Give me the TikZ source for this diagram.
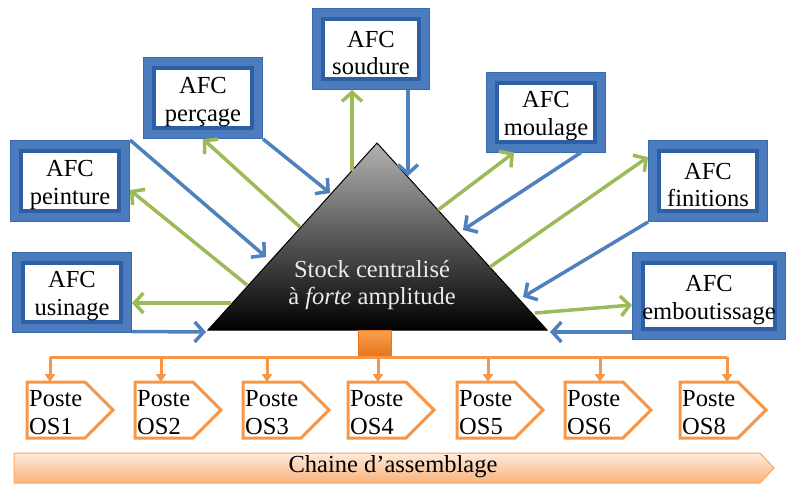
\documentclass[tikz,border=0pt]{standalone}
\usepackage{fontspec}
\setmainfont{Liberation Serif}
\usetikzlibrary{arrows.meta,calc}

\definecolor{bandblue}{HTML}{4A7CBE}
\definecolor{innerblue}{HTML}{2D5EA6}
\definecolor{edgeblue}{HTML}{3A6AAE}
\definecolor{arrowblue}{HTML}{4F81BD}
\definecolor{arrowgreen}{HTML}{9BBB59}
\definecolor{lineorange}{HTML}{F79646}
\definecolor{hubtop}{HTML}{F9A050}
\definecolor{hubbottom}{HTML}{E7761A}
\definecolor{chaintop}{HTML}{FDEBDC}
\definecolor{chainbottom}{HTML}{F8B27C}

\begin{document}
\begin{tikzpicture}[x=1pt, y=-1pt,
  every node/.style={font=\fontsize{24.5}{27.5}\selectfont},
  afc/.style={rectangle, inner sep=0pt, outer sep=11pt,
    fill=white, draw=innerblue, line width=4pt,
    preaction={draw=edgeblue, line width=22pt},
    preaction={draw=bandblue, line width=20pt}},
  afctext/.style={align=center, inner sep=0pt, text=black},
  barrow/.style={draw=arrowblue, line width=3.5pt,
    -{Straight Barb[length=9pt,width=20pt]}},
  garrow/.style={draw=arrowgreen, line width=3.5pt,
    -{Straight Barb[length=9pt,width=20pt]}},
  orangeline/.style={draw=lineorange, line width=3pt},
  orangearrow/.style={draw=lineorange, line width=3pt,
    -{Triangle[length=8pt,width=10pt]}},
  postebox/.style={rectangle, minimum width=86pt, minimum height=56pt,
    inner sep=0pt, outer sep=0pt},
  posttext/.style={inner sep=0pt, text=black},
]
\useasboundingbox (0,0) rectangle (787,485);

% ---- central stock (shaded triangle)
\coordinate (tA) at (377,143);
\coordinate (tL) at (208,330);
\coordinate (tR) at (547,330);
\shade[top color=black!30, bottom color=black, draw=black, line width=1pt]
  (tA) -- (tL) -- (tR) -- cycle;
\node[text=white!92!black, align=center, inner sep=0pt] (stock) at (372,285)
  {Stock centralisé\\à \textit{forte} amplitude};

% ---- AFC workshops (framed boxes)
\node[afc, minimum width=96pt, minimum height=60pt] (soudure)  at (371,49)  {};
\node[afc, minimum width=98pt, minimum height=60pt] (percage)  at (203,98)  {};
\node[afc, minimum width=98pt, minimum height=59pt] (moulage)  at (546,112) {};
\node[afc, minimum width=98pt, minimum height=60pt] (finitions) at (708,181) {};
\node[afc, minimum width=98pt, minimum height=60pt] (peinture) at (70,181)  {};
\node[afc, minimum width=98pt, minimum height=59pt] (usinage)  at (72,292)  {};
\node[afc, minimum width=132pt, minimum height=66pt] (embout)  at (709,296) {};

% ---- their captions
\foreach \n/\t in {soudure/soudure, percage/perçage, moulage/moulage,
                   finitions/finitions, peinture/peinture, usinage/usinage,
                   embout/emboutissage}
  \node[afctext] (\n-txt) at ($(\n.center)+(0,4)$) {AFC\\\t};

% ---- points on the triangle where the flows meet it
\coordinate (gS) at (352,171);
\coordinate (bS) at (408,176);
\coordinate (bP) at (330,193);
\coordinate (gP) at (300,227);
\coordinate (bPe) at (266,257);
\coordinate (gPe) at (247,285);
\coordinate (gU) at (231,303);
\coordinate (bU) at (206,332);
\coordinate (gM) at (438,210);
\coordinate (bM) at (463,230);
\coordinate (gF) at (490,267);
\coordinate (bF) at (523,297);
\coordinate (gE) at (535,313);
\coordinate (bE) at (550,332);

% ---- flows: blue towards the stock, green back to the workshops
\draw[garrow] (gS) -- (gS |- soudure.south);
\draw[barrow] (bS |- soudure.south) -- (bS);

\draw[barrow] (percage.south east) -- (bP);
\draw[garrow] (gP) -- (percage.south);

\draw[barrow] (peinture.north east) -- (bPe);
\draw[garrow] (gPe) -- ($(peinture.east)+(0,9)$);

\draw[garrow] (gU) -- (usinage.east |- gU);
\draw[barrow] ($(usinage.south east)+(0,-1)$) -- (bU);

\draw[garrow] (gM) -- ($(moulage.south west)+(28,0)$);
\draw[barrow] ($(moulage.south east)+(-25,0)$) -- (bM);

\draw[garrow] (gF) -- ($(finitions.west)+(0,-24)$);
\draw[barrow] (finitions.south west) -- (bF);

\draw[garrow] (gE) -- ($(embout.west)+(0,9)$);
\draw[barrow] ($(embout.south west)+(0,-8)$) -- (bE);

% ---- distribution to the assembly posts
\node[rectangle, minimum width=33pt, minimum height=25pt, inner sep=0pt,
  top color=hubtop, bottom color=hubbottom, draw=hubbottom, line width=1pt]
  (hub) at (375,343) {};
\coordinate (busL) at (50,357);
\coordinate (busR) at (727,357);
\draw[orangeline] (busL) -- (busR);

\foreach \x/\ax/\lab [count=\i] in
  {27/50/OS1, 135/161/OS2, 243/267/OS3, 348/378/OS4,
   457/488/OS5, 565/600/OS6, 680/727/OS8} {
  \node[postebox, anchor=north west] (p\i) at (\x,382) {};
  \draw[orangeline, line join=miter]
    (p\i.north west) -- ($(p\i.north west)+(58,0)$) -- (p\i.east)
    -- ($(p\i.south west)+(58,0)$) -- (p\i.south west) -- cycle;
  \node[posttext, anchor=base west] (pa\i) at ($(p\i.north west)+(2,24)$) {Poste};
  \node[posttext, anchor=base west] (pb\i) at ($(p\i.north west)+(2,52)$) {\lab};
  \coordinate (bus\i) at (\ax,357);
  \draw[orangearrow] (bus\i) -- (bus\i |- p\i.north);
}

% ---- assembly line banner
\shade[top color=chaintop, bottom color=chainbottom, draw=lineorange!85, line width=1pt]
  (14,453) -- (760,453) -- (774,468) -- (760,483) -- (14,483) -- cycle;
\node[inner sep=0pt] (chaine) at (393,467) {Chaine d’assemblage};
\end{tikzpicture}
\end{document}
